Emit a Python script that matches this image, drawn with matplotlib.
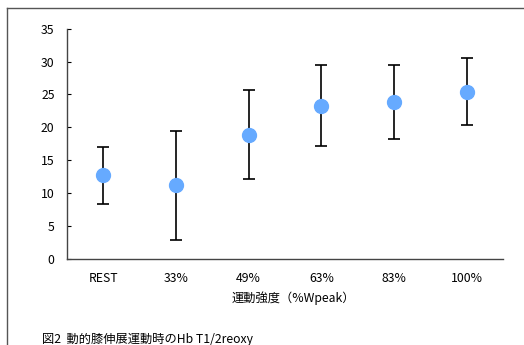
import matplotlib
matplotlib.use('Agg')
import matplotlib.pyplot as plt
from matplotlib.lines import Line2D

plt.rcParams['font.family'] = ['Noto Sans CJK JP', 'DejaVu Sans']

categories = ['REST', '33%', '49%', '63%', '83%', '100%']
means = [12.7, 11.2, 18.9, 23.3, 23.9, 25.4]
sd = [4.35, 8.25, 6.8, 6.15, 5.65, 5.1]

fig = plt.figure(figsize=(5.24, 3.45), dpi=100)
ax = fig.add_axes([0.128, 0.249, 0.832, 0.668])

x = list(range(len(categories)))
ax.errorbar(x, means, yerr=sd, fmt='none', ecolor='black', elinewidth=1.2,
            capsize=4, capthick=1.2, zorder=2)
ax.plot(x, means, 'o', color='#66aaff', markersize=10, zorder=3)

ax.set_xlim(-0.5, 5.5)
ax.set_ylim(0, 35)
ax.set_yticks(range(0, 36, 5))
ax.set_xticks(x)
ax.set_xticklabels(categories)
ax.tick_params(axis='y', direction='in', length=3, labelsize=8.8, pad=9)
ax.tick_params(axis='x', length=0, labelsize=8.8, pad=9)
for s in ['top', 'right']:
    ax.spines[s].set_visible(False)
for s in ['left', 'bottom']:
    ax.spines[s].set_color('#444444')
    ax.spines[s].set_linewidth(1.0)

ax.set_xlabel('運動強度（%Wpeak）', fontsize=8.8)
ax.xaxis.set_label_coords(0.518, -0.14)

# 外枠(上と左だけ)
fig.add_artist(Line2D([0.0134, 1.0], [0.977, 0.977], color='#555555', lw=1.0, transform=fig.transFigure))
fig.add_artist(Line2D([0.0134, 0.0134], [0.0, 0.977], color='#555555', lw=1.0, transform=fig.transFigure))

fig.text(0.08, 0.006, '図2  動的膝伸展運動時のHb T1/2reoxy', fontsize=8.8)

fig.savefig('out.png', dpi=100)
